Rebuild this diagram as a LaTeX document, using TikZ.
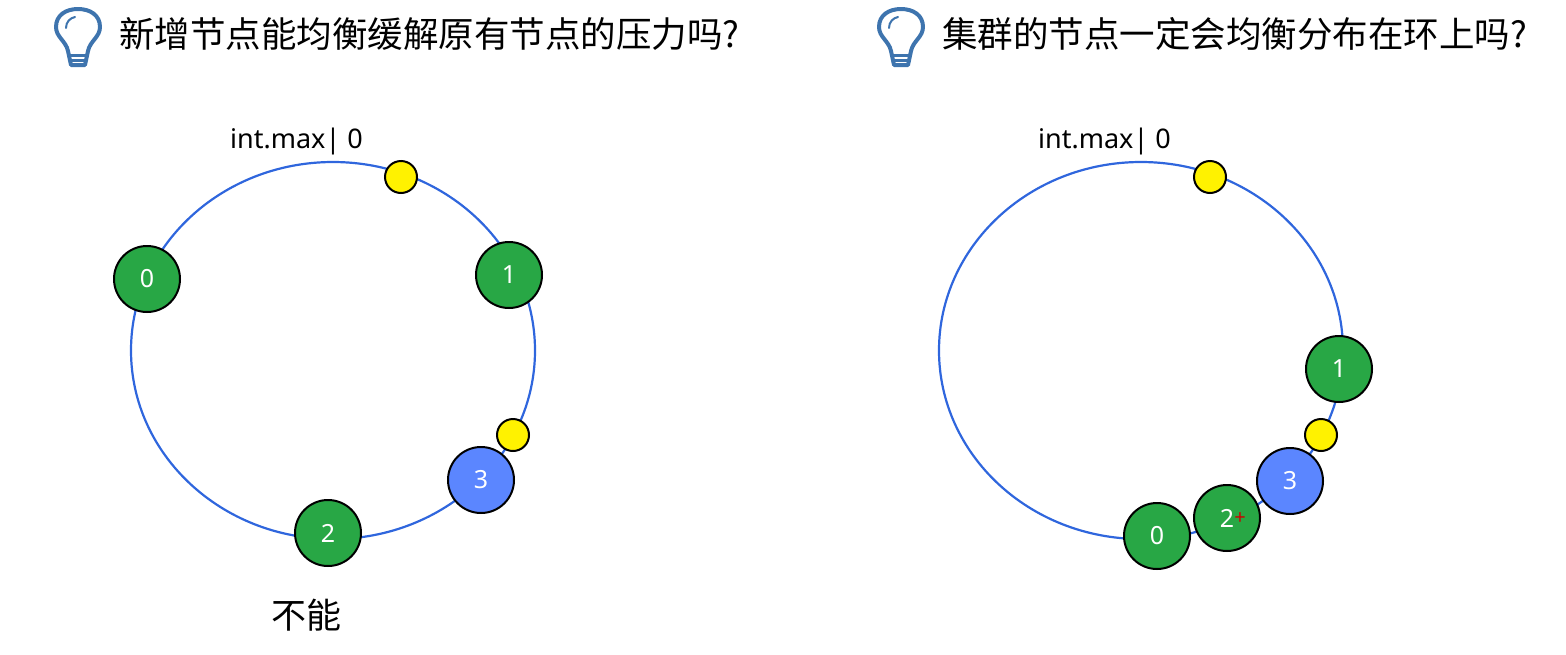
\documentclass[tikz,border=0pt]{standalone}
\usepackage{fontspec}
\setmainfont{Noto Sans}
\newfontfamily\cjk{Noto Sans CJK SC}
\definecolor{ringcolor}{HTML}{2F66DD}
\definecolor{nodegreen}{HTML}{28A745}
\definecolor{nodeblue}{HTML}{5B86FF}
\definecolor{bulbcolor}{HTML}{3E74AE}
\usetikzlibrary{shapes.geometric}
\tikzset{
	ring/.style={
		ellipse,
		draw=ringcolor,
		line width=2.2pt,
		minimum width=404pt,
		minimum height=377pt,
		inner sep=0pt
	},
	server/.style={
		circle,
		draw=black,
		line width=2pt,
		minimum size=66pt,
		inner sep=0pt,
		text=white,
		font=\fontsize{25}{27}\selectfont
	},
	green/.style={
		server,
		fill=nodegreen
	},
	blue/.style={
		server,
		fill=nodeblue
	},
	key/.style={
		circle,
		draw=black,
		line width=2pt,
		fill=yellow,
		minimum size=32pt,
		inner sep=0pt
	},
	heading/.style={
		anchor=west,
		inner sep=0pt,
		font=\cjk\fontsize{35.5}{38}\selectfont
	},
	maxlabel/.style={
		anchor=west,
		inner sep=0pt,
		font=\fontsize{27}{30}\selectfont
	},
	bulb/.pic={
		\draw[bulbcolor,line width=4pt,line join=round]
			(-10,21) .. controls (-12,11) and (-22,7) .. (-22,-3)
			.. controls (-22,-15) and (-12,-21) .. (0,-21)
			.. controls (12,-21) and (22,-15) .. (22,-3)
			.. controls (22,7) and (12,11) .. (10,21)
			-- (7,35) -- (-7,35) -- cycle;
		\draw[bulbcolor,line width=2pt,line cap=round]
			(-12,-2) .. controls (-12,-8) and (-8,-12) .. (-3,-13);
		\draw[bulbcolor,line width=3pt]
			(-10,25) -- (10,25)
			(-8,30) -- (8,30);
	},
}
\begin{document}
\begin{tikzpicture}[x=1pt,y=-1pt]
	\useasboundingbox (0,0) rectangle (1566,654);
	% left side
	\pic at (78,30) {bulb};
	\node [heading] (title1) at (119,34) {新增节点能均衡缓解原有节点的压力吗?};
	\node [maxlabel] (max1) at (230,141) {int.max| 0};
	\node [ring] (ring1) at (333,350.5) {};
	\node [key] (k1) at (401,177) {};
	\node [key] (k2) at (513,435) {};
	\node [green] (n0) at (147,279) {0};
	\node [green] (n1) at (509,275) {1};
	\node [green] (n2) at (328,533) {2};
	\node [blue] (n3) at (481,480) {3};
	\node [inner sep=0pt,font=\cjk\fontsize{35}{38}\selectfont] (no) at (306,615) {不能};
	% right side
	\pic at (901,30) {bulb};
	\node [heading] (title2) at (942,34) {集群的节点一定会均衡分布在环上吗?};
	\node [maxlabel] (max2) at (1038,141) {int.max| 0};
	\node [ring] (ring2) at (1141,350.5) {};
	\node [key] (k3) at (1210,177) {};
	\node [key] (k4) at (1321,435) {};
	\node [green] (m1) at (1339,369) {1};
	\node [blue] (m3) at (1290,481) {3};
	\node [green] (m2) at (1227,518) {2};
	\node [green] (m0) at (1157,536) {0};
	\node [text=red!80!black,inner sep=0pt,font=\bfseries\fontsize{20}{20}\selectfont] (plus) at (1240,519) {+};
\end{tikzpicture}
\end{document}
